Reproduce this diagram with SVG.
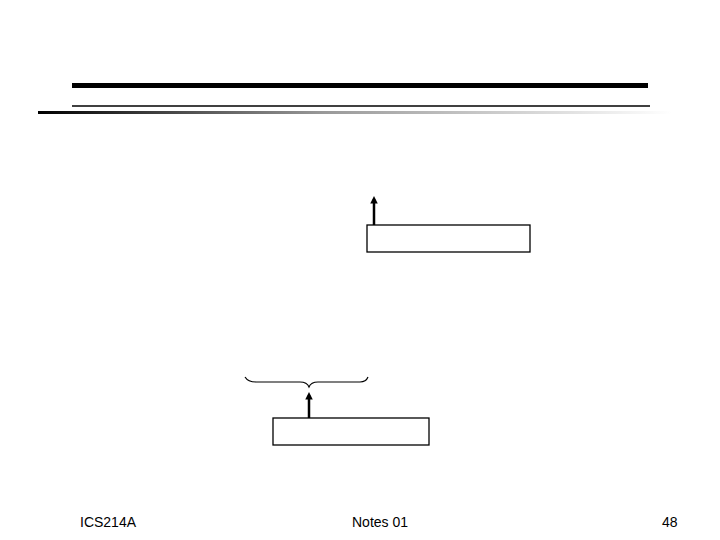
<svg xmlns="http://www.w3.org/2000/svg" width="720" height="540" viewBox="0 0 720 540">
<style>
.box{fill:#fff;stroke:#000;stroke-width:1.3}
.conn{stroke:#000;stroke-width:2.5;fill:none}
.brace{stroke:#000;stroke-width:1.2;fill:none}
.ft{font-family:"Liberation Sans",Arial,sans-serif;font-size:14px;fill:#000}
</style>
<defs>
<linearGradient id="fade" x1="0" y1="0" x2="1" y2="0">
<stop offset="0" stop-color="#000"/>
<stop offset="0.45" stop-color="#999"/>
<stop offset="1" stop-color="#fff"/>
</linearGradient>
<marker id="ah" viewBox="0 0 10 10" refX="6" refY="5" markerWidth="3" markerHeight="3" orient="auto" markerUnits="strokeWidth">
<path d="M0,0 L10,5 L0,10 Z" fill="#000"/>
</marker>
</defs>
<rect width="720" height="540" fill="#fff"/>
<g id="header">
<rect x="72" y="83" width="576" height="5" fill="#000"/>
<line x1="72" y1="106" x2="650" y2="106" stroke="#000" stroke-width="1.6"/>
<rect x="38" y="111" width="634" height="3" fill="url(#fade)"/>
</g>
<g id="node-top">
<rect class="box" x="367" y="225" width="163" height="27"/>
</g>
<g id="node-bottom">
<rect class="box" x="273" y="418" width="156" height="27"/>
</g>
<g id="brace">
<path class="brace" d="M245,377 Q248,382 256,382 L300,382 Q307,382 309,387 Q311,382 318,382 L360,382 Q366,382 368,377"/>
</g>
<g id="connectors">
<line class="conn" x1="374" y1="225" x2="374" y2="199" marker-end="url(#ah)"/>
<line class="conn" x1="309" y1="418" x2="309" y2="395" marker-end="url(#ah)"/>
</g>
<g id="footer">
<text class="ft" x="80" y="527">ICS214A</text>
<text class="ft" x="352" y="527">Notes 01</text>
<text class="ft" x="662" y="527">48</text>
</g>
</svg>
